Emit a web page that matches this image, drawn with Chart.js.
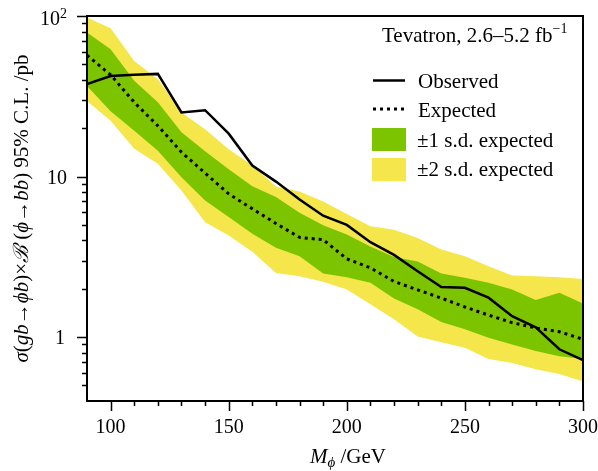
<!DOCTYPE html>
<html>
<head>
<meta charset="utf-8">
<script src="https://cdn.jsdelivr.net/npm/chart.js@4.4.1/dist/chart.umd.min.js"></script>
<style>
  html, body { margin: 0; padding: 0; background: #fff; }
</style>
</head>
<body>
<canvas id="limitChart" width="598" height="471"></canvas>
<script>
// Higgs mass points (GeV)
const mass = [90, 100, 110, 120, 130, 140, 150, 160, 170, 180, 190, 200, 210, 220, 230, 240, 250, 260, 270, 280, 290, 300];

// 95% C.L. limits, pb
const observed = [37.7, 42.3, 43.0, 43.6, 25.1, 25.9, 18.5, 11.7, 9.3, 7.2, 5.7, 5.0, 3.9, 3.25, 2.57, 2.05, 2.03, 1.76, 1.35, 1.15, 0.84, 0.72];
const expected = [57, 43, 29, 20.7, 14.2, 10.5, 7.8, 6.3, 5.1, 4.18, 4.04, 3.07, 2.7, 2.22, 1.97, 1.75, 1.54, 1.37, 1.23, 1.14, 1.08, 0.97];
const plus1sd = [79, 62, 39.5, 29, 18.9, 14.4, 11.1, 8.7, 7.45, 5.95, 4.97, 4.35, 3.67, 3.16, 2.96, 2.49, 2.34, 2.18, 1.98, 1.70, 1.89, 1.62];
const minus1sd = [36.7, 25.5, 19.3, 14.5, 9.9, 7.1, 5.6, 4.4, 3.6, 3.19, 2.49, 2.36, 2.18, 1.74, 1.49, 1.24, 1.12, 0.99, 0.90, 0.82, 0.76, 0.73];
const plus2sd = [98, 84, 52.5, 40.4, 25.1, 19.7, 14.8, 11.7, 8.67, 8.07, 7.0, 5.85, 4.9, 4.67, 4.14, 3.51, 3.19, 2.76, 2.42, 2.39, 2.36, 2.30];
const minus2sd = [29.6, 22.3, 14.9, 12.0, 8.2, 5.2, 4.3, 3.4, 2.51, 2.39, 2.21, 1.98, 1.60, 1.29, 1.01, 0.93, 0.86, 0.73, 0.69, 0.63, 0.59, 0.53];

// axis ticks
const xMajorTicks = [100, 150, 200, 250, 300];
const xMinorTicks = [110, 120, 130, 140, 160, 170, 180, 190, 210, 220, 230, 240, 260, 270, 280, 290];
const yMajorTicks = [1, 10, 100];
const yMinorTicks = [0.5, 0.6, 0.7, 0.8, 0.9, 2, 3, 4, 5, 6, 7, 8, 9, 20, 30, 40, 50, 60, 70, 80, 90];

const GREEN = '#7dc400';
const YELLOW = '#f4e64b';
const SERIF = '"Liberation Serif", "DejaVu Serif", serif';

const pts = arr => mass.map((m, i) => ({ x: m, y: arr[i] }));

// draw a row of text pieces with different fonts, returns the total width
function drawRuns(ctx, runs, x, y, measureOnly) {
    let w = 0;
    runs.forEach(r => {
        ctx.font = r.font;
        if (!measureOnly) ctx.fillText(r.t, x + w, y + (r.dy || 0));
        w += ctx.measureText(r.t).width;
    });
    return w;
}

const decor = {
    id: 'decor',
    afterDraw(chart) {
        const { ctx, chartArea: a } = chart;
        const xs = chart.scales.x, ys = chart.scales.y;
        ctx.save();
        ctx.fillStyle = '#000';
        ctx.strokeStyle = '#000';

        // ticks
        ctx.lineWidth = 1.5;
        ctx.beginPath();
        xMajorTicks.forEach(v => {
            const px = Math.round(xs.getPixelForValue(v)) + 0.5;
            ctx.moveTo(px, a.bottom); ctx.lineTo(px, a.bottom + 10);
        });
        xMinorTicks.forEach(v => {
            const px = Math.round(xs.getPixelForValue(v)) + 0.5;
            ctx.moveTo(px, a.bottom); ctx.lineTo(px, a.bottom + 5);
        });
        yMajorTicks.forEach(v => {
            const py = Math.round(ys.getPixelForValue(v)) + 0.5;
            ctx.moveTo(a.left, py); ctx.lineTo(a.left - 10, py);
        });
        yMinorTicks.forEach(v => {
            const py = Math.round(ys.getPixelForValue(v)) + 0.5;
            ctx.moveTo(a.left, py); ctx.lineTo(a.left - 5, py);
        });
        ctx.stroke();

        // frame
        ctx.lineWidth = 2;
        ctx.strokeRect(a.left, a.top, a.right - a.left, a.bottom - a.top);

        // x tick labels
        ctx.font = '20px ' + SERIF;
        ctx.textAlign = 'center';
        ctx.textBaseline = 'alphabetic';
        xMajorTicks.forEach(v => ctx.fillText(String(v), xs.getPixelForValue(v), 433));

        // y tick labels
        ctx.textAlign = 'right';
        ctx.fillText('1', a.left - 22, ys.getPixelForValue(1) + 7);
        ctx.fillText('10', a.left - 20, ys.getPixelForValue(10) + 7);
        ctx.fillText('10', a.left - 27, ys.getPixelForValue(100) + 9);
        ctx.font = '14px ' + SERIF;
        ctx.textAlign = 'left';
        ctx.fillText('2', a.left - 27, ys.getPixelForValue(100) + 2);

        // x title
        drawRuns(ctx, [
            { t: 'M', font: 'italic 21px ' + SERIF },
            { t: 'ϕ', font: 'italic 15px ' + SERIF, dy: 4 },
            { t: ' /GeV', font: '21px ' + SERIF }
        ], 310, 463);

        // y title, rotated
        const it = 'italic 21px ' + SERIF, up = '21px ' + SERIF;
        const yRuns = [
            { t: 'σ', font: it }, { t: '(', font: up }, { t: 'gb', font: it },
            { t: '→', font: up }, { t: 'ϕb', font: it }, { t: ')×', font: up },
            { t: 'ℬ', font: it }, { t: ' (', font: up }, { t: 'ϕ', font: it },
            { t: '→', font: up }, { t: 'bb', font: it }, { t: ') 95% C.L. /pb', font: up }
        ];
        const tw = drawRuns(ctx, yRuns, 0, 0, true);
        ctx.save();
        ctx.translate(28, (a.top + a.bottom) / 2);
        ctx.rotate(-Math.PI / 2);
        drawRuns(ctx, yRuns, -tw / 2, 0);
        ctx.restore();

        // annotation
        const tev = drawRuns(ctx, [{ t: 'Tevatron, 2.6–5.2 fb', font: '21px ' + SERIF }], 382, 42);
        ctx.font = '14px ' + SERIF;
        ctx.fillText('−1', 382 + tev, 33);

        // legend
        ctx.lineWidth = 2.5;
        ctx.beginPath(); ctx.moveTo(373, 80.5); ctx.lineTo(405, 80.5); ctx.stroke();
        ctx.lineWidth = 3;
        ctx.setLineDash([3, 4]);
        ctx.beginPath(); ctx.moveTo(373, 109); ctx.lineTo(405, 109); ctx.stroke();
        ctx.setLineDash([]);
        ctx.fillStyle = GREEN;
        ctx.fillRect(372, 128, 34, 23);
        ctx.fillStyle = YELLOW;
        ctx.fillRect(372, 158, 34, 23);
        ctx.fillStyle = '#000';
        ctx.font = '21px ' + SERIF;
        ctx.fillText('Observed', 418, 88);
        ctx.fillText('Expected', 418, 117);
        ctx.fillText('±1 s.d. expected', 417, 147);
        ctx.fillText('±2 s.d. expected', 417, 176);

        ctx.restore();
    }
};

const ctx = document.getElementById('limitChart').getContext('2d');
new Chart(ctx, {
    type: 'line',
    data: {
        datasets: [
            { data: pts(plus2sd), fill: { target: 1 }, backgroundColor: YELLOW, borderWidth: 0, pointRadius: 0, order: 5 },
            { data: pts(minus2sd), fill: false, borderWidth: 0, pointRadius: 0, order: 4 },
            { data: pts(plus1sd), fill: { target: 3 }, backgroundColor: GREEN, borderWidth: 0, pointRadius: 0, order: 3 },
            { data: pts(minus1sd), fill: false, borderWidth: 0, pointRadius: 0, order: 2 },
            { data: pts(expected), fill: false, borderColor: '#000', borderWidth: 3, borderDash: [3, 4], pointRadius: 0, order: 1 },
            { data: pts(observed), fill: false, borderColor: '#000', borderWidth: 2.5, pointRadius: 0, order: 0 }
        ]
    },
    options: {
        responsive: false,
        animation: false,
        events: [],
        layout: { padding: { top: 16, right: 15, left: 0, bottom: 0 } },
        scales: {
            x: {
                type: 'linear', min: 90, max: 300,
                ticks: { display: false },
                grid: { display: false },
                border: { display: false },
                afterFit: s => { s.height = 70; }
            },
            y: {
                type: 'logarithmic', min: 0.4, max: 100,
                ticks: { display: false },
                grid: { display: false },
                border: { display: false },
                afterFit: s => { s.width = 87; }
            }
        },
        plugins: {
            legend: { display: false },
            tooltip: { enabled: false }
        }
    },
    plugins: [decor]
});
</script>
</body>
</html>
